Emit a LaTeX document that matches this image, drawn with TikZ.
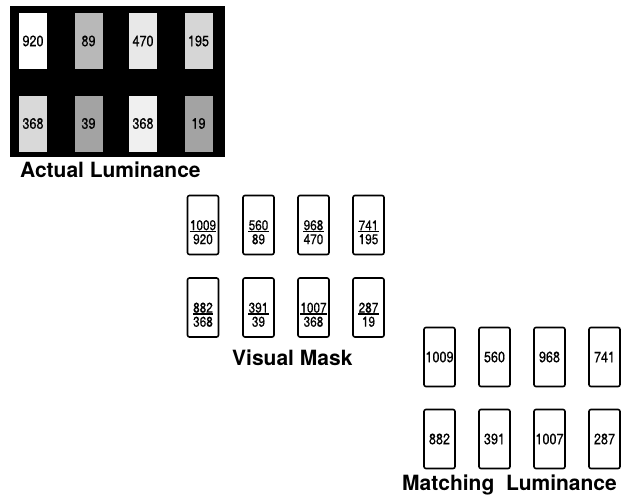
\documentclass[tikz,border=0pt]{standalone}
\usepackage{fontspec}
\setmainfont{TeX Gyre Heros}
\newfontfamily\cellfont[FakeStretch=0.84,FakeBold=0.6]{TeX Gyre Heros}
\tikzset{
  lumcell/.style={minimum width=28pt,minimum height=56pt,inner sep=0pt,font=\cellfont\fontsize{15}{15}\selectfont},
  maskcell/.style={draw,line width=1.6pt,rounded corners=2pt,minimum width=31pt,minimum height=59pt,inner sep=0pt,font=\cellfont\fontsize{15}{15}\selectfont},
  fracnum/.style={inner sep=0pt,font=\cellfont\fontsize{14}{14}\selectfont},
  caption/.style={anchor=base west,inner sep=0pt,font=\fontsize{21}{21}\selectfont\bfseries}
}
\begin{document}
\begin{tikzpicture}[x=1pt,y=-1pt]
  \useasboundingbox (0,0) rectangle (621,498);
  % actual luminance
  \fill[black] (10,6) rectangle (225,157);
  \foreach \x/\y/\v/\c [count=\i] in {33/41/920/white, 88.5/41/89/black!28, 143/41/470/black!9, 198.5/41/195/black!16,
      33/123.5/368/black!15, 88.5/123.5/39/black!36, 143/123.5/368/black!6, 198.5/123.5/19/black!36}
    \node[lumcell,fill=\c] (a\i) at (\x,\y) {\v};
  \node[caption] (actual) at (20,177) {Actual Luminance};
  % visual mask
  \foreach \x/\y/\n/\d [count=\i] in {203/225/1009/920, 258.5/225/560/89, 313.5/225/968/470, 368.5/225/741/195,
      203/307.5/882/368, 258.5/307.5/391/39, 313.5/307.5/1007/368, 368.5/307.5/287/19}
  {
    \node[maskcell] (m\i) at (\x,\y) {};
    \node[fracnum,anchor=south] (n\i) at ([yshift=-5.5pt]m\i.center) {\n};
    \draw[line width=1.6pt] ([yshift=-1pt]n\i.south west) -- ([yshift=-1pt]n\i.south east);
    \node[fracnum,anchor=north] (d\i) at ([yshift=-3.5pt]n\i.south) {\d};
  }
  \node[caption] (mask) at (232,365) {Visual Mask};
  % matching luminance
  \foreach \x/\y/\v [count=\i] in {439.5/357/1009, 494.5/357/560, 549.5/357/968, 604.5/357/741,
      439.5/439/882, 494.5/439/391, 549.5/439/1007, 604.5/439/287}
    \node[maskcell] (l\i) at (\x,\y) {\v};
  \node[caption] (match) at (402,490) {Matching\ \ Luminance};
\end{tikzpicture}
\end{document}
